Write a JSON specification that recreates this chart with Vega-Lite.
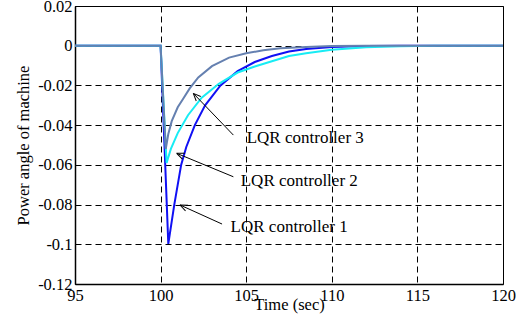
{
  "$schema": "https://vega.github.io/schema/vega-lite/v6.json",
  "width": 428,
  "height": 278,
  "autosize": {"type": "none"},
  "padding": {"left": 75, "top": 6, "right": 19, "bottom": 36},
  "background": "white",
  "config": {
    "font": "Liberation Serif, Times New Roman, serif",
    "view": {"stroke": "black", "strokeWidth": 1},
    "axis": {
      "labelFont": "Liberation Serif, Times New Roman, serif",
      "titleFont": "Liberation Serif, Times New Roman, serif",
      "labelFontSize": 16.5,
      "titleFontSize": 16.5,
      "labelColor": "black",
      "titleColor": "black",
      "titleFontWeight": "normal",
      "domainColor": "black",
      "domainWidth": 1.5,
      "ticks": false,
      "tickSize": 0,
      "tickCount": 20,
      "grid": true,
      "gridColor": "black",
      "gridOpacity": 1,
      "gridWidth": 1,
      "gridDash": [6, 4],
      "labelFlush": false,
      "labelOverlap": false
    }
  },
  "datasets": {
    "curves": [
      {"t": 95, "v": 0, "s": "LQR controller 1"},
      {"t": 100, "v": 0, "s": "LQR controller 1"},
      {"t": 100.45, "v": -0.0998, "s": "LQR controller 1"},
      {"t": 100.8, "v": -0.08, "s": "LQR controller 1"},
      {"t": 101.2, "v": -0.06, "s": "LQR controller 1"},
      {"t": 101.5, "v": -0.051, "s": "LQR controller 1"},
      {"t": 102.0, "v": -0.04, "s": "LQR controller 1"},
      {"t": 102.6, "v": -0.03, "s": "LQR controller 1"},
      {"t": 103.5, "v": -0.02, "s": "LQR controller 1"},
      {"t": 104.5, "v": -0.0128, "s": "LQR controller 1"},
      {"t": 105.5, "v": -0.0082, "s": "LQR controller 1"},
      {"t": 106.5, "v": -0.0052, "s": "LQR controller 1"},
      {"t": 107.5, "v": -0.0029, "s": "LQR controller 1"},
      {"t": 108.5, "v": -0.0017, "s": "LQR controller 1"},
      {"t": 110, "v": -0.0007, "s": "LQR controller 1"},
      {"t": 112, "v": -0.0002, "s": "LQR controller 1"},
      {"t": 114, "v": 0, "s": "LQR controller 1"},
      {"t": 120, "v": 0, "s": "LQR controller 1"},
      {"t": 95, "v": 0, "s": "LQR controller 2"},
      {"t": 100, "v": 0, "s": "LQR controller 2"},
      {"t": 100.35, "v": -0.059, "s": "LQR controller 2"},
      {"t": 100.6, "v": -0.052, "s": "LQR controller 2"},
      {"t": 101.0, "v": -0.044, "s": "LQR controller 2"},
      {"t": 101.6, "v": -0.035, "s": "LQR controller 2"},
      {"t": 102.4, "v": -0.0262, "s": "LQR controller 2"},
      {"t": 103.4, "v": -0.0192, "s": "LQR controller 2"},
      {"t": 104.5, "v": -0.0135, "s": "LQR controller 2"},
      {"t": 105.5, "v": -0.0105, "s": "LQR controller 2"},
      {"t": 106.5, "v": -0.0078, "s": "LQR controller 2"},
      {"t": 107.5, "v": -0.0052, "s": "LQR controller 2"},
      {"t": 108.5, "v": -0.0038, "s": "LQR controller 2"},
      {"t": 110, "v": -0.002, "s": "LQR controller 2"},
      {"t": 112, "v": -0.0008, "s": "LQR controller 2"},
      {"t": 114, "v": -0.0003, "s": "LQR controller 2"},
      {"t": 116, "v": 0, "s": "LQR controller 2"},
      {"t": 120, "v": 0, "s": "LQR controller 2"},
      {"t": 95, "v": 0, "s": "LQR controller 3"},
      {"t": 100, "v": 0, "s": "LQR controller 3"},
      {"t": 100.3, "v": -0.052, "s": "LQR controller 3"},
      {"t": 100.45, "v": -0.0445, "s": "LQR controller 3"},
      {"t": 100.65, "v": -0.038, "s": "LQR controller 3"},
      {"t": 101.0, "v": -0.031, "s": "LQR controller 3"},
      {"t": 101.3, "v": -0.027, "s": "LQR controller 3"},
      {"t": 101.7, "v": -0.0215, "s": "LQR controller 3"},
      {"t": 102.2, "v": -0.016, "s": "LQR controller 3"},
      {"t": 103.0, "v": -0.0103, "s": "LQR controller 3"},
      {"t": 104.0, "v": -0.006, "s": "LQR controller 3"},
      {"t": 105.0, "v": -0.0038, "s": "LQR controller 3"},
      {"t": 106.0, "v": -0.0023, "s": "LQR controller 3"},
      {"t": 107.0, "v": -0.0013, "s": "LQR controller 3"},
      {"t": 108.5, "v": -0.0006, "s": "LQR controller 3"},
      {"t": 110, "v": -0.0002, "s": "LQR controller 3"},
      {"t": 112, "v": 0, "s": "LQR controller 3"},
      {"t": 120, "v": 0, "s": "LQR controller 3"}
    ],
    "notes": [
      {"label": "LQR controller 3", "tx": 105.03, "ty": -0.0488, "x1": 104.25, "y1": -0.045, "x2": 101.91, "y2": -0.024, "ang": 226},
      {"label": "LQR controller 2", "tx": 104.68, "ty": -0.0705, "x1": 104.25, "y1": -0.066, "x2": 100.94, "y2": -0.0542, "ang": 202.5},
      {"label": "LQR controller 1", "tx": 104.09, "ty": -0.0937, "x1": 103.59, "y1": -0.0898, "x2": 101.13, "y2": -0.0802, "ang": 204}
    ]
  },
  "layer": [
    {
      "data": {"name": "curves"},
      "mark": {"type": "line", "strokeWidth": 2, "clip": true},
      "encoding": {
        "x": {
          "field": "t", "type": "quantitative",
          "scale": {"domain": [95, 120], "nice": false, "zero": false},
          "axis": {
            "values": [95, 100, 105, 110, 115, 120],
            "tickCount": 20,
            "title": "Time (sec)",
            "labelPadding": 3,
            "labelBaseline": "top",
            "titleBaseline": "alphabetic",
            "titleY": 25,
            "titlePadding": 0
          }
        },
        "y": {
          "field": "v", "type": "quantitative",
          "scale": {"domain": [-0.12, 0.02], "nice": false, "zero": false},
          "axis": {
            "values": [-0.12, -0.1, -0.08, -0.06, -0.04, -0.02, 0, 0.02],
            "tickCount": 20,
            "format": "~g",
            "labelExpr": "replace(datum.label, '\u2212', '-')",
            "labelPadding": 3,
            "title": "Power angle of machine",
            "titleAngle": -90,
            "titleAlign": "center",
            "titleBaseline": "middle",
            "titleX": -52,
            "titleY": 139
          }
        },
        "color": {
          "field": "s", "type": "nominal",
          "scale": {
            "domain": ["LQR controller 1", "LQR controller 2", "LQR controller 3"],
            "range": ["#1010f4", "#18ecf4", "#6580b0"]
          },
          "legend": null
        },
        "order": {"field": "t", "type": "quantitative"}
      }
    },
    {
      "data": {"name": "notes"},
      "mark": {"type": "rule", "color": "black", "strokeWidth": 1},
      "encoding": {
        "x": {"field": "x1", "type": "quantitative"},
        "y": {"field": "y1", "type": "quantitative"},
        "x2": {"field": "x2"},
        "y2": {"field": "y2"}
      }
    },
    {
      "data": {"name": "notes"},
      "mark": {"type": "point", "shape": "M0,0L-1,-0.42M0,0L-1,0.42", "filled": false, "color": "black", "strokeWidth": 1, "size": 225, "opacity": 1},
      "encoding": {
        "x": {"field": "x2", "type": "quantitative"},
        "y": {"field": "y2", "type": "quantitative"},
        "angle": {"field": "ang", "type": "quantitative", "scale": null}
      }
    },
    {
      "data": {"name": "notes"},
      "mark": {"type": "text", "align": "left", "baseline": "alphabetic", "font": "Liberation Serif, Times New Roman, serif", "fontSize": 17, "color": "black"},
      "encoding": {
        "x": {"field": "tx", "type": "quantitative"},
        "y": {"field": "ty", "type": "quantitative"},
        "text": {"field": "label"}
      }
    }
  ]
}
